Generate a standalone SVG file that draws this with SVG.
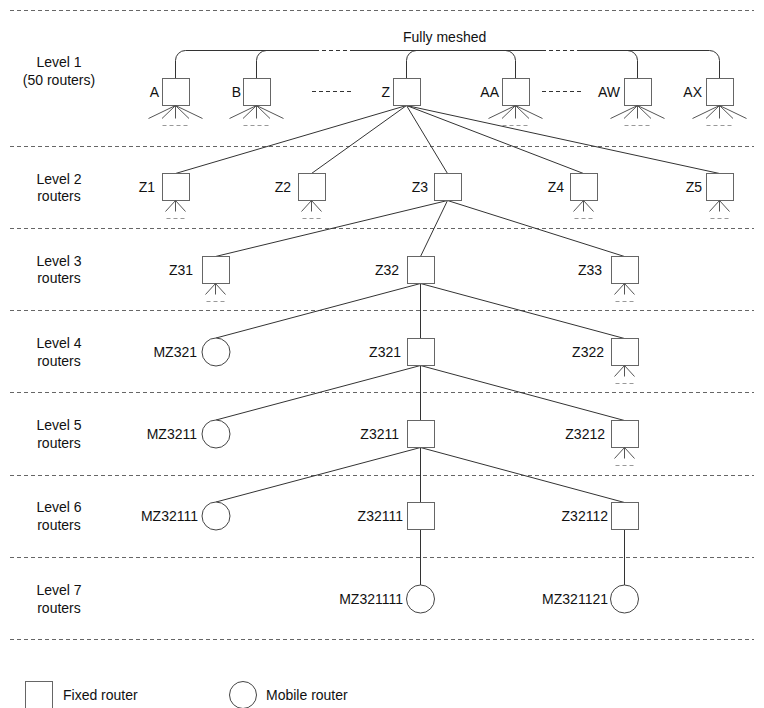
<svg xmlns="http://www.w3.org/2000/svg" xmlns:xlink="http://www.w3.org/1999/xlink" width="764" height="708" viewBox="0 0 764 708">
<style>
  text { font-family: "Liberation Sans", Arial, sans-serif; font-size: 14px; fill: #111; }
  .lbl { text-anchor: end; }
  .lvl { text-anchor: middle; }
  .sep { stroke: #666; stroke-width: 1; stroke-dasharray: 4 3; fill: none; }
  .box { fill: #fff; stroke: #666; stroke-width: 1; }
  .mob { fill: #fff; stroke: #444; stroke-width: 1; }
  .con { stroke: #333; stroke-width: 1; fill: none; }
  .fan { stroke: #555; stroke-width: 1; fill: none; }
  .fdash { stroke: #999; stroke-width: 1; stroke-dasharray: 4 3; fill: none; }
</style>
<defs>
  <g id="fan5">
    <path class="fan" d="M0,0 L-27,13 M0,0 L-13.5,13 M0,0 L0,13 M0,0 L13.5,13 M0,0 L27,13"/>
    <path class="fdash" d="M-13,20 H12"/>
  </g>
  <g id="fan3">
    <path class="fan" d="M0,0 L-10,11 M0,0 L0,11 M0,0 L10,11"/>
    <path class="fdash" d="M-9,18 H9"/>
  </g>
</defs>
<rect width="764" height="708" fill="#fff"/>

<g id="separators">
  <path class="sep" d="M10,10.5 H754 M10,146.5 H754 M10,228.5 H754 M10,310.5 H754 M10,392.5 H754 M10,475.5 H754 M10,557.5 H754 M10,639.5 H754"/>
</g>

<g id="level-labels">
  <text class="lvl" x="59" y="67">Level 1</text>
  <text class="lvl" x="59" y="85">(50 routers)</text>
  <text class="lvl" x="59" y="184">Level 2</text>
  <text class="lvl" x="59" y="201">routers</text>
  <text class="lvl" x="59" y="266">Level 3</text>
  <text class="lvl" x="59" y="283">routers</text>
  <text class="lvl" x="59" y="348">Level 4</text>
  <text class="lvl" x="59" y="366">routers</text>
  <text class="lvl" x="59" y="430">Level 5</text>
  <text class="lvl" x="59" y="448">routers</text>
  <text class="lvl" x="59" y="512">Level 6</text>
  <text class="lvl" x="59" y="530">routers</text>
  <text class="lvl" x="59" y="595">Level 7</text>
  <text class="lvl" x="59" y="613">routers</text>
</g>

<g id="connectors">
  <!-- full mesh -->
  <path class="con" d="M175.5,78.5 V60.5 A10,10 0 0 1 185.5,50.5 H315 M352,50.5 H542 M580,50.5 H709.5 A10,10 0 0 1 719.5,60.5 V78.5"/>
  <path class="con" stroke-dasharray="4 3" d="M315,50.5 H352 M542,50.5 H580"/>
  <path class="con" d="M256.5,78.5 V60.5 A10,10 0 0 1 266.5,50.5"/>
  <path class="con" d="M406.5,78.5 V60.5 A10,10 0 0 1 416.5,50.5"/>
  <path class="con" d="M515.5,78.5 V60.5 A10,10 0 0 0 505.5,50.5"/>
  <path class="con" d="M637.5,78.5 V60.5 A10,10 0 0 0 627.5,50.5"/>
  <!-- dotted continuation between level-1 routers -->
  <path class="con" stroke-dasharray="4 3" d="M312,91.5 H351 M542,91.5 H582"/>
  <!-- Z to level 2 -->
  <path class="con" d="M406.5,105.5 L175.5,173.5 M406.5,105.5 L311.5,173.5 M406.5,105.5 L447.5,173.5 M406.5,105.5 L583.5,173.5 M406.5,105.5 L719.5,173.5"/>
  <!-- Z3 to level 3 -->
  <path class="con" d="M447.5,200.5 L215.5,256.5 M447.5,200.5 L420.5,256.5 M447.5,200.5 L624.5,256.5"/>
  <!-- Z32 to level 4 -->
  <path class="con" d="M420.5,283.5 L216,338 M420.5,283.5 V338.5 M420.5,283.5 L624.5,338.5"/>
  <!-- Z321 to level 5 -->
  <path class="con" d="M420.5,365.5 L216,420 M420.5,365.5 V420.5 M420.5,365.5 L624.5,420.5"/>
  <!-- Z3211 to level 6 -->
  <path class="con" d="M420.5,447.5 L216,502 M420.5,447.5 V502.5 M420.5,447.5 L624.5,502.5"/>
  <!-- level 6 to level 7 -->
  <path class="con" d="M420.5,529.5 V585 M624.5,529.5 V585"/>
</g>

<g id="A"><rect class="box" x="162.5" y="78.5" width="27" height="27"/><text class="lbl" x="159" y="97">A</text><use xlink:href="#fan5" x="175.5" y="105.5"/></g>
<g id="B"><rect class="box" x="243.5" y="78.5" width="27" height="27"/><text class="lbl" x="241" y="97">B</text><use xlink:href="#fan5" x="256.5" y="105.5"/></g>
<g id="Z"><rect class="box" x="393.5" y="78.5" width="27" height="27"/><text class="lbl" x="390" y="97">Z</text></g>
<g id="AA"><rect class="box" x="502.5" y="78.5" width="27" height="27"/><text class="lbl" x="499" y="97">AA</text><use xlink:href="#fan5" x="515.5" y="105.5"/></g>
<g id="AW"><rect class="box" x="624.5" y="78.5" width="27" height="27"/><text class="lbl" x="620" y="97">AW</text><use xlink:href="#fan5" x="637.5" y="105.5"/></g>
<g id="AX"><rect class="box" x="706.5" y="78.5" width="27" height="27"/><text class="lbl" x="702" y="97">AX</text><use xlink:href="#fan5" x="719.5" y="105.5"/></g>
<g id="mesh-label"><text x="403" y="42">Fully meshed</text></g>

<g id="Z1"><rect class="box" x="162.5" y="173.5" width="27" height="27"/><text class="lbl" x="155" y="192">Z1</text><use xlink:href="#fan3" x="175.5" y="200.5"/></g>
<g id="Z2"><rect class="box" x="298.5" y="173.5" width="27" height="27"/><text class="lbl" x="291" y="192">Z2</text><use xlink:href="#fan3" x="311.5" y="200.5"/></g>
<g id="Z3"><rect class="box" x="434.5" y="173.5" width="27" height="27"/><text class="lbl" x="428" y="192">Z3</text></g>
<g id="Z4"><rect class="box" x="570.5" y="173.5" width="27" height="27"/><text class="lbl" x="564" y="192">Z4</text><use xlink:href="#fan3" x="583.5" y="200.5"/></g>
<g id="Z5"><rect class="box" x="706.5" y="173.5" width="27" height="27"/><text class="lbl" x="702" y="192">Z5</text><use xlink:href="#fan3" x="719.5" y="200.5"/></g>

<g id="Z31"><rect class="box" x="202.5" y="256.5" width="27" height="27"/><text class="lbl" x="193" y="275">Z31</text><use xlink:href="#fan3" x="215.5" y="283.5"/></g>
<g id="Z32"><rect class="box" x="407.5" y="256.5" width="27" height="27"/><text class="lbl" x="399" y="275">Z32</text></g>
<g id="Z33"><rect class="box" x="611.5" y="256.5" width="27" height="27"/><text class="lbl" x="602" y="275">Z33</text><use xlink:href="#fan3" x="624.5" y="283.5"/></g>

<g id="MZ321"><circle class="mob" cx="216" cy="352" r="14"/><text class="lbl" x="197" y="357">MZ321</text></g>
<g id="Z321"><rect class="box" x="407.5" y="338.5" width="27" height="27"/><text class="lbl" x="401" y="357">Z321</text></g>
<g id="Z322"><rect class="box" x="611.5" y="338.5" width="27" height="27"/><text class="lbl" x="604" y="357">Z322</text><use xlink:href="#fan3" x="624.5" y="365.5"/></g>

<g id="MZ3211"><circle class="mob" cx="216" cy="434" r="14"/><text class="lbl" x="197" y="439">MZ3211</text></g>
<g id="Z3211"><rect class="box" x="407.5" y="420.5" width="27" height="27"/><text class="lbl" x="399" y="439">Z3211</text></g>
<g id="Z3212"><rect class="box" x="611.5" y="420.5" width="27" height="27"/><text class="lbl" x="605" y="439">Z3212</text><use xlink:href="#fan3" x="624.5" y="447.5"/></g>

<g id="MZ32111"><circle class="mob" cx="216" cy="516" r="14"/><text class="lbl" x="198" y="521">MZ32111</text></g>
<g id="Z32111"><rect class="box" x="407.5" y="502.5" width="27" height="27"/><text class="lbl" x="403" y="521">Z32111</text></g>
<g id="Z32112"><rect class="box" x="611.5" y="502.5" width="27" height="27"/><text class="lbl" x="608" y="521">Z32112</text></g>

<g id="MZ321111"><circle class="mob" cx="420.5" cy="599" r="14"/><text class="lbl" x="403" y="604">MZ321111</text></g>
<g id="MZ321121"><circle class="mob" cx="624.5" cy="599" r="14"/><text class="lbl" x="608" y="604">MZ321121</text></g>

<g id="legend">
  <rect class="box" x="25.5" y="681.5" width="27" height="27"/>
  <text x="63" y="700">Fixed router</text>
  <circle class="mob" cx="243" cy="695" r="13.5"/>
  <text x="266" y="700">Mobile router</text>
</g>
</svg>
